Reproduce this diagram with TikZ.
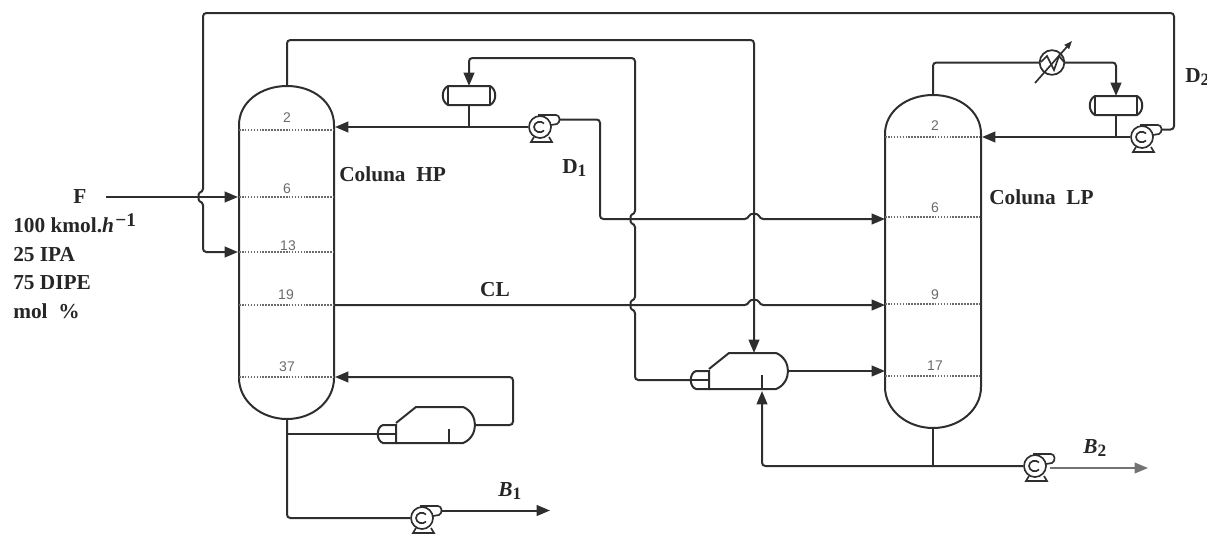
\documentclass[tikz,border=0pt]{standalone}
\usepackage{fontspec}
\setmainfont{Liberation Serif}
\newfontfamily\traysf{Liberation Sans}
\usetikzlibrary{arrows.meta}
\definecolor{ink}{gray}{0.18}
\definecolor{tray}{gray}{0.42}
\newcommand\hopv[2]{-- (#1,#2-5) .. controls (#1-5,#2-4) and (#1-5,#2+4) .. (#1,#2+5)}
\newcommand\hoph[2]{-- (#1-6,#2) .. controls (#1-4,#2-6) and (#1+4,#2-6) .. (#1+6,#2)}
\newcommand\lowered[1]{\raisebox{-0.35ex}{\fontsize{13}{13}\selectfont #1}}
\newcommand\raisedtxt[1]{\hspace{1pt}\raisebox{0.7ex}{\fontsize{14.5}{14}\selectfont #1}}
\tikzset{
  x=0.75pt,y=-0.75pt,
  pipe/.style={draw=ink,line width=1.5pt,rounded corners=2.5pt},
  flow/.style={pipe,-{Triangle[length=10pt,width=8pt]}},
  greyflow/.style={draw=black!55,line width=1.2pt,-{Triangle[length=10pt,width=8pt]}},
  vessel/.style={draw=ink,line width=1.5pt},
  thinv/.style={draw=ink,line width=1.25pt},
  trayline/.style={draw=tray,line width=1.2pt,densely dotted},
  traynum/.style={text=tray,font=\traysf\fontsize{10.5}{12}\selectfont,inner sep=0pt},
  lab/.style={font=\bfseries\fontsize{16}{21.4}\selectfont,inner sep=0pt,text=black!85},
  pics/pumpsym/.style={code={
    \draw[thinv] (0,0) circle[radius=8.25pt];
    \draw[thinv] (-2,-12) -- (16,-12) .. controls (20,-12) and (21,-5) .. (17,-3) -- (11,-2);
    \draw[thinv] (4,-3.5) .. controls (1,-7) and (-6,-5) .. (-6,0) .. controls (-6,5) and (1,7) .. (4,3.5);
    \draw[thinv] (-6,10) -- (-9,15) -- (12,15) -- (9,10);
    \coordinate (-in) at (-12,0);
    \coordinate (-out) at (19,-7.5);
  }},
  pics/drumsym/.style={code={
    \draw[vessel] (-21,-9.5) -- (21,-9.5) .. controls (28,-6) and (28,6) .. (21,9.5) -- (-21,9.5) .. controls (-28,6) and (-28,-6) .. (-21,-9.5) -- cycle;
    \draw[thinv] (-21,-9.5) -- (-21,9.5) (21,-9.5) -- (21,9.5);
    \coordinate (-top) at (0,-9.5);
    \coordinate (-bot) at (0,9.5);
  }},
  pics/reboilersym/.style={code={
    \draw[vessel] (19,-9) -- (6,-9) .. controls (-1,-7) and (-1,7) .. (6,9) -- (19,9) -- cycle;
    \draw[thinv] (0,0) -- (19,0);
    \draw[vessel] (19,-11) -- (39,-27) -- (86,-27) .. controls (94,-24) and (98,-16) .. (98,-9) .. controls (98,-2) and (94,6) .. (86,9) -- (19,9);
    \draw[thinv] (72,-5) -- (72,9);
    \coordinate (-in) at (0,0);
    \coordinate (-out) at (98,-9);
    \coordinate (-top) at (64,-27);
    \coordinate (-bot) at (72,11);
  }},
}
\begin{document}
\begin{tikzpicture}
\clip (0,0) rectangle (1207,533);

% ---------- Columns ----------
\draw[vessel] (239,125) .. controls (239,102) and (261,86) .. (287,86) .. controls (313,86) and (334,102) .. (334,125)
  -- (334,378) .. controls (334,401) and (313,419) .. (287,419) .. controls (261,419) and (239,401) .. (239,378) -- cycle;
\draw[vessel] (885,134) .. controls (885,111) and (907,95) .. (933,95) .. controls (959,95) and (981,111) .. (981,134)
  -- (981,387) .. controls (981,410) and (959,428) .. (933,428) .. controls (907,428) and (885,410) .. (885,387) -- cycle;
\foreach \ty in {130,197,252,305,377} \draw[trayline] (239,\ty) -- (334,\ty);
\foreach \ty in {137,217,304,376} \draw[trayline] (885,\ty) -- (981,\ty);

\node[traynum] (h2) at (287,118) {2};
\node[traynum] (h6) at (287,189) {6};
\node[traynum] (h13) at (288,246) {13};
\node[traynum] (h19) at (286,295) {19};
\node[traynum] (h37) at (287,367) {37};
\node[traynum] (l2) at (935,126) {2};
\node[traynum] (l6) at (935,208) {6};
\node[traynum] (l9) at (935,295) {9};
\node[traynum] (l17) at (935,366) {17};

% ---------- Equipment ----------
\pic (dh) at (469,95.5) {drumsym};
\pic (dl) at (1116,105.5) {drumsym};
\pic (p1) at (540,127) {pumpsym};
\pic (p2) at (1142,137) {pumpsym};
\pic (p3) at (422,518) {pumpsym};
\pic (p4) at (1035,466) {pumpsym};
\pic (rh) at (377,434) {reboilersym};
\pic (rl) at (690,380) {reboilersym};

% condenser
\node[circle,draw=ink,line width=1.3pt,minimum size=18.5pt,inner sep=0pt] (cond) at (1052,62.5) {};
\draw[thinv] (1041,62) -- (1047,56) -- (1054,70) -- (1059,56) -- (1064,62);
\coordinate (condA) at (1035,83);
\coordinate (condB) at (1072,41);
\draw[thinv,-{Triangle[length=6pt,width=4.5pt]}] (condA) -- (condB);

% ---------- Free ends and column ports ----------
\coordinate (Fstart) at (106,197);
\coordinate (h6in) at (238,197);
\coordinate (h13in) at (238,252);
\coordinate (htop) at (287,86);
\coordinate (hbot) at (287,419);
\coordinate (h2in) at (335,127);
\coordinate (h19out) at (335,305);
\coordinate (h37in) at (335,377);
\coordinate (l2in) at (982,137);
\coordinate (l6in) at (885,219);
\coordinate (l9in) at (885,305);
\coordinate (l17in) at (885,372);
\coordinate (ltop) at (933,95);
\coordinate (lbot) at (933,428);
\coordinate (b1end) at (550,512);
\coordinate (b2end) at (1148,468);

% ---------- Streams ----------
\draw[flow] (p2-out) -| (1174,13) -- (203,13) \hopv{203}{197} -- (203,252) -- (h13in);
\draw[flow] (Fstart) -- (h6in);
\draw[flow] (htop) -- (287,40) -| (rl-top);
\draw[flow] (p1-in) -- (h2in);
\draw[pipe] (dh-bot) -- (469,127);
\draw[flow] (p1-out) -| (600,219) \hoph{754}{219} -- (l6in);
\draw[flow] (rl-in) -- (635,380) -- (635,310) .. controls (630,309) and (630,301) .. (635,300) -- (635,224) .. controls (630,223) and (630,215) .. (635,214) -- (635,58) -- (469,58) -- (dh-top);
\draw[flow] (h19out) \hoph{754}{305} -- (l9in);
\draw[flow] (rl-out) -- (l17in |- rl-out);
\draw[flow] (rh-out) -- (513,425) -- (513,377) -- (h37in);
\draw[pipe] (hbot) -- (287,518) -- (p3-in);
\draw[pipe] (287,434) -- (rh-in);
\draw[flow] (p3-out) -- (b1end |- p3-out);
\draw[pipe] (ltop) -- (933,62.5) -- (cond);
\draw[flow] (cond) -| (dl-top);
\draw[flow] (p2-in) -- (l2in);
\draw[pipe] (dl-bot) -- (1116,137);
\draw[pipe] (lbot) -- (933,466);
\draw[flow] (p4-in) -| (rl-bot);
\draw[greyflow] (1050,468) -- (b2end);

% ---------- Labels ----------
\node[lab] (F) at (80,197) {F};
\node[lab,align=left,anchor=north west] (feed) at (13,213) {100 kmol.\textit{h}\raisedtxt{−1}\\25 IPA\\75 DIPE\\mol\ \ \%};
\node[lab,anchor=west] (cHP) at (339,174) {Coluna\ \ HP};
\node[lab,anchor=west] (cLP) at (989,197) {Coluna\ \ LP};
\node[lab,anchor=west] (D1) at (562,168) {D\lowered{1}};
\node[lab,anchor=west] (D2) at (1185,77) {D\lowered{2}};
\node[lab] (CL) at (495,290) {CL};
\node[lab,anchor=west] (B1) at (498,491) {\textit{B}\lowered{1}};
\node[lab,anchor=west] (B2) at (1083,448) {\textit{B}\lowered{2}};
\end{tikzpicture}
\end{document}
